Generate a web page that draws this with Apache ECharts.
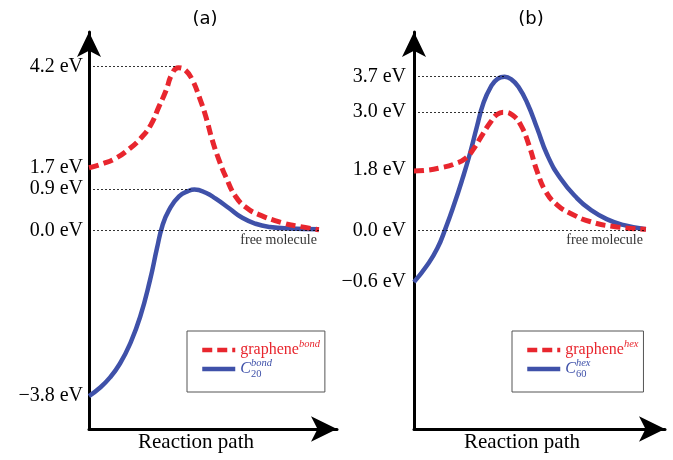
<!DOCTYPE html>
<html>
<head>
<meta charset="utf-8">
<script src="https://cdn.jsdelivr.net/npm/echarts@6/dist/echarts.min.js"></script>
<style>
  html, body { margin: 0; padding: 0; background: #fff; }
  #chart { width: 673px; height: 460px; }
</style>
</head>
<body>
<div id="chart"></div>
<script>
// Schematic energy profiles along the reaction path.
// Levels are the drawn heights (zero = free molecule),
// the tick texts are the energies printed next to them.

var RED = '#e8262e';
var BLUE = '#3f51a9';
var SERIF = 'Liberation Serif';

// panel (a)
var LEVELS_A = [4.13, 1.58, 1.05, 0, -4.17];
var LABELS_A = ['4.2 eV', '1.7 eV', '0.9 eV', '0.0 eV', '\u22123.8 eV'];
var GRAPHENE_BOND = [[0, 1.58], [5.4, 1.68], [10.8, 1.82], [16.1, 2.05], [20.8, 2.32], [24.9, 2.66],
  [28.2, 3.12], [30.9, 3.50], [33.6, 3.96], [36.0, 4.10], [39.0, 4.03], [41.7, 3.79], [44.4, 3.37],
  [47.1, 2.87], [49.7, 2.28], [52.4, 1.78], [55.1, 1.36], [59.2, 0.85], [63.8, 0.56], [68.5, 0.40],
  [78.2, 0.19], [85.1, 0.10], [92.7, 0.02]];
var C20_BOND = [[0, -4.17], [4.4, -3.96], [8.5, -3.70], [12.5, -3.35], [16.5, -2.86], [20.6, -2.18],
  [24.6, -1.25], [27.4, -0.45], [29.6, 0.12], [32.3, 0.52], [36.3, 0.86], [40.3, 1.00], [42.5, 1.03],
  [47.1, 0.95], [51.1, 0.80], [56.5, 0.56], [61.8, 0.32], [67.2, 0.17], [73.0, 0.09], [81.0, 0.05],
  [92.7, 0.03]];
// dotted guides: [level, where the dotted line stops]
var GUIDES_A = [[4.13, 35.2], [1.05, 41.0], [0, 93.1]];

// panel (b)
var LEVELS_B = [3.88, 2.98, 1.52, 0, -1.30];
var LABELS_B = ['3.7 eV', '3.0 eV', '1.8 eV', '0.0 eV', '\u22120.6 eV'];
var GRAPHENE_HEX = [[0, 1.50], [5.3, 1.52], [10.6, 1.58], [15.9, 1.67], [20.6, 1.82], [23.9, 2.07],
  [27.2, 2.41], [30.6, 2.74], [33.2, 2.93], [35.9, 2.98], [39.2, 2.91], [42.5, 2.66], [45.8, 2.15],
  [49.1, 1.48], [52.5, 0.98], [57.1, 0.64], [62.4, 0.43], [70.4, 0.22], [80.9, 0.09], [92.4, 0.03]];
var C60_HEX = [[0, -1.30], [5.3, -0.87], [9.3, -0.45], [12.6, 0.06], [15.9, 0.64], [19.2, 1.28],
  [22.3, 1.94], [25.0, 2.60], [27.6, 3.20], [30.6, 3.62], [33.3, 3.82], [36.1, 3.87], [38.9, 3.80],
  [41.6, 3.62], [45.2, 3.20], [49.1, 2.57], [53.1, 1.90], [58.4, 1.31], [65.0, 0.81], [70.4, 0.52],
  [77.0, 0.28], [83.3, 0.14], [92.4, 0.03]];
var GUIDES_B = [[3.88, 35.9], [2.98, 33.2], [0, 92.4]];

var LEGEND_TEXT = {
  'graphene^bond': '{gr|graphene}{supR|bond}',
  'C20^bond': '{ci|C}{sub|20}{supB|bond}',
  'graphene^hex': '{gr|graphene}{supR|hex}',
  'C60^hex': '{ci|C}{sub|60}{supB|hex}'
};

function labelFor(levels, labels) {
  return function (v) {
    for (var i = 0; i < levels.length; i++) {
      if (Math.abs(v - levels[i]) < 1e-6) return labels[i];
    }
    return '';
  };
}

function xAxisFor(idx, shift) {
  return {
    gridIndex: idx, type: 'value', min: 0, max: 100,
    axisLine: {
      onZero: false, symbol: ['none', 'arrow'], symbolSize: [19, 26], symbolOffset: [0, 0],
      lineStyle: { color: '#000', width: 3 }
    },
    axisTick: { show: false }, axisLabel: { show: false }, splitLine: { show: false },
    name: 'Reaction path', nameLocation: 'middle', nameGap: 3,
    nameTextStyle: { fontFamily: SERIF, fontSize: 21, color: '#000', padding: [0, shift, 0, 0] }
  };
}

function yAxisFor(idx, levels, labels, margin) {
  return {
    gridIndex: idx, type: 'value', min: -5, max: 5,
    axisLine: {
      onZero: false, symbol: ['none', 'arrow'], symbolSize: [18, 25], symbolOffset: [0, 0],
      lineStyle: { color: '#000', width: 3 }
    },
    axisTick: { show: false }, splitLine: { show: false },
    axisLabel: {
      customValues: levels, formatter: labelFor(levels, labels),
      fontFamily: SERIF, fontSize: 20, color: '#000', margin: margin
    }
  };
}

function curve(name, idx, data, color, dashed) {
  return {
    name: name, type: 'line', xAxisIndex: idx, yAxisIndex: idx, data: data,
    smooth: 0.5, symbol: 'none', z: dashed ? 4 : 3,
    itemStyle: { color: color },
    lineStyle: { color: color, width: dashed ? 5 : 4.5, type: dashed ? [10, 5] : 'solid', cap: 'butt' }
  };
}

function guides(idx, list) {
  return {
    type: 'line', xAxisIndex: idx, yAxisIndex: idx, data: [], z: 1,
    markLine: {
      silent: true, symbol: ['none', 'none'], animation: false,
      lineStyle: { color: '#000', width: 0.8, type: [2, 2] },
      label: { show: false },
      data: list.map(function (g) {
        var start = { coord: [0, g[0]] };
        if (g[0] === 0) {
          start.label = {
            show: true, formatter: 'free molecule', position: 'insideEndBottom', distance: 3,
            fontFamily: SERIF, fontSize: 14, color: '#333'
          };
        }
        return [start, { coord: [g[1], g[0]] }];
      })
    }
  };
}

function legendFor(left, names) {
  return {
    left: left, top: 331, orient: 'vertical', selectedMode: false,
    data: names, itemWidth: 33, itemHeight: 14, itemGap: 0,
    padding: [8, 5, 12, 13], borderColor: '#555', borderWidth: 1,
    itemStyle: { opacity: 0 },
    lineStyle: { width: 4.5 },
    formatter: function (name) { return LEGEND_TEXT[name]; },
    textStyle: {
      rich: {
        gr: { fontFamily: SERIF, fontSize: 16, color: RED, lineHeight: 22 },
        ci: { fontFamily: SERIF, fontStyle: 'italic', fontSize: 16, color: BLUE, lineHeight: 22 },
        supR: { fontFamily: SERIF, fontStyle: 'italic', fontSize: 10.5, color: RED, lineHeight: 10, verticalAlign: 'top' },
        supB: { fontFamily: SERIF, fontStyle: 'italic', fontSize: 10.5, color: BLUE, lineHeight: 10, verticalAlign: 'top' },
        sub: { fontFamily: SERIF, fontSize: 10.5, color: BLUE, lineHeight: 10, verticalAlign: 'bottom', width: 0 }
      }
    }
  };
}

var chart = echarts.init(document.getElementById('chart'));
chart.setOption({
  animation: false,
  backgroundColor: '#fff',
  grid: [
    { left: 89, top: 32, width: 248, height: 397 },
    { left: 414, top: 32, width: 251, height: 397 }
  ],
  xAxis: [xAxisFor(0, 34), xAxisFor(1, 35)],
  yAxis: [yAxisFor(0, LEVELS_A, LABELS_A, 6), yAxisFor(1, LEVELS_B, LABELS_B, 8)],
  legend: [
    legendFor(187, ['graphene^bond', 'C20^bond']),
    legendFor(512, ['graphene^hex', 'C60^hex'])
  ],
  graphic: [
    { type: 'text', x: 205, y: 19, style: { text: '(a)', font: '18px "DejaVu Sans"', fill: '#000', textAlign: 'center', textVerticalAlign: 'middle' } },
    { type: 'text', x: 531, y: 19, style: { text: '(b)', font: '18px "DejaVu Sans"', fill: '#000', textAlign: 'center', textVerticalAlign: 'middle' } }
  ],
  series: [
    guides(0, GUIDES_A),
    curve('graphene^bond', 0, GRAPHENE_BOND, RED, true),
    curve('C20^bond', 0, C20_BOND, BLUE, false),
    guides(1, GUIDES_B),
    curve('graphene^hex', 1, GRAPHENE_HEX, RED, true),
    curve('C60^hex', 1, C60_HEX, BLUE, false)
  ]
});
</script>
</body>
</html>
